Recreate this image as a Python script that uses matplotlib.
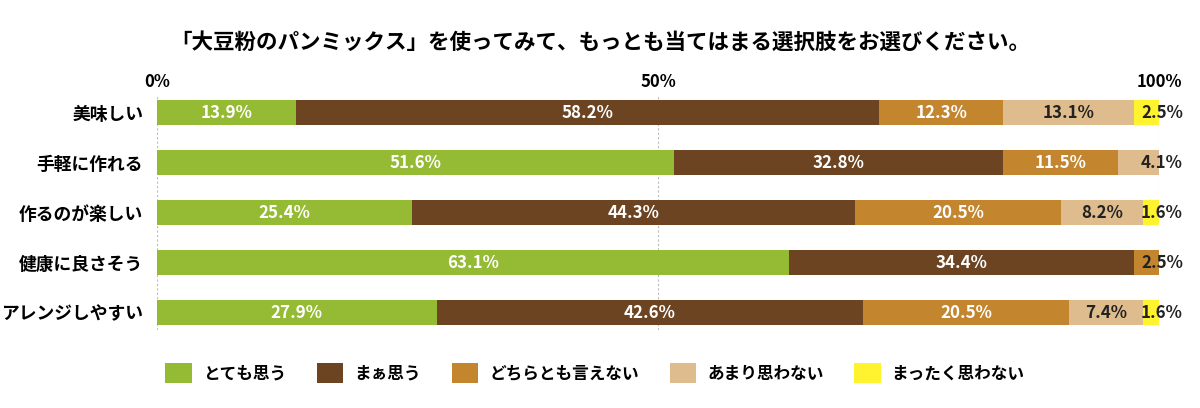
import matplotlib
matplotlib.use("Agg")
import matplotlib.pyplot as plt
from matplotlib.patches import Patch
import numpy as np

plt.rcParams['font.family'] = ['Noto Sans CJK JP', 'DejaVu Sans']

title = "「大豆粉のパンミックス」を使ってみて、もっとも当てはまる選択肢をお選びください。"
categories = ["美味しい", "手軽に作れる", "作るのが楽しい", "健康に良さそう", "アレンジしやすい"]
series_names = ["とても思う", "まぁ思う", "どちらとも言えない", "あまり思わない", "まったく思わない"]
series_values = [
    [13.9, 51.6, 25.4, 63.1, 27.9],
    [58.2, 32.8, 44.3, 34.4, 42.6],
    [12.3, 11.5, 20.5, 2.5, 20.5],
    [13.1, 4.1, 8.2, 0.0, 7.4],
    [2.5, 0.0, 1.6, 0.0, 1.6],
]
colors = ["#95BB34", "#6D4421", "#C3862F", "#DFBC8D", "#FFF22E"]
text_colors = ["white", "white", "white", "#222222", "#222222"]
tick_values = [0, 50, 100]
tick_labels = ["0%", "50%", "100%"]

num_font = ['Noto Sans CJK JP', 'DejaVu Sans']

fig = plt.figure(figsize=(12, 4.08), dpi=100)
ax = fig.add_axes([157/1200, (408-330)/408, (1159-157)/1200, (330-95)/408])

y = np.arange(len(categories))
left = np.zeros(len(categories))
for s, vals in enumerate(series_values):
    vals = np.array(vals)
    ax.barh(y, vals, left=left, height=0.5, color=colors[s], edgecolor='none', zorder=2)
    for i, v in enumerate(vals):
        if v <= 0:
            continue
        if v < 5:
            ax.text(100.3, y[i], f"{v:.1f}%", ha='center', va='center',
                    color='#222222', fontsize=12.2, fontweight='bold', family=num_font, zorder=3)
        else:
            ax.text(left[i] + v / 2, y[i], f"{v:.1f}%", ha='center', va='center',
                    color=text_colors[s], fontsize=12.2, fontweight='bold', family=num_font, zorder=3)
    left = left + vals

ax.set_xlim(0, 100)
ax.set_ylim(4.35, -0.35)
ax.set_yticks(y)
ax.set_yticklabels(categories, fontsize=12.8, fontweight='bold')
ax.xaxis.tick_top()
ax.set_xticks(tick_values)
ax.set_xticklabels(tick_labels, fontsize=12, fontweight='bold', family=num_font)
ax.tick_params(axis='both', length=0)
ax.tick_params(axis='x', pad=3)
ax.tick_params(axis='y', pad=10)
for t in tick_values:
    ax.axvline(t, color='#BBBBBB', lw=0.8, ls=(0, (2, 2)), zorder=1)
for sp in ax.spines.values():
    sp.set_visible(False)

fig.text(0.5, 1 - 42/408, title, ha='center', va='center', fontsize=15.5, fontweight='bold')

handles = [Patch(facecolor=c, edgecolor='none') for c in colors]
leg = fig.legend(handles, series_names, loc='center', bbox_to_anchor=(595/1200, (408-373)/408),
                 ncol=5, frameon=False, prop={'size': 12, 'weight': 'bold'},
                 handlelength=1.6, handleheight=1.5, columnspacing=1.85, handletextpad=0.65)

fig.savefig("out.png", dpi=100)
